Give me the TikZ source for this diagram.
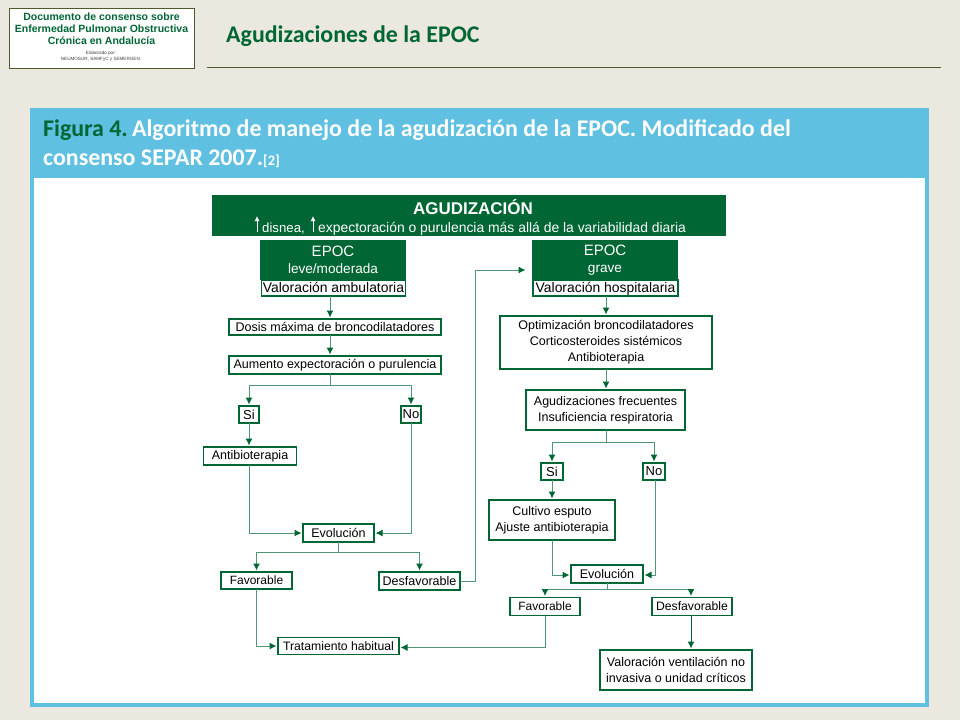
\documentclass[tikz,border=0pt]{standalone}
\usepackage{fontspec}
\setmainfont{Liberation Sans}
\newfontfamily\calib{Carlito}
\usetikzlibrary{arrows.meta}
\definecolor{bgc}{HTML}{EBE9DF}
\definecolor{bluec}{HTML}{5FC0E2}
\definecolor{darkg}{HTML}{006633}
\definecolor{lineg}{HTML}{4F9675}
\definecolor{olive}{HTML}{4E5A2E}
\tikzset{
  bx/.style={draw=darkg,line width=1.3pt,fill=white,text=black,inner sep=0pt,outer sep=0pt,align=center,
    font=\fontsize{12.5}{16}\selectfont},
  big/.style={font=\fontsize{13.9}{16}\selectfont,text height=10.5pt,text depth=2.5pt},
  small/.style={font=\fontsize{12}{14}\selectfont},
  yn/.style={font=\fontsize{13}{15}\selectfont},
  gbx/.style={fill=darkg,text=white,inner sep=0pt,outer sep=0pt,align=center,
    font=\fontsize{15}{18}\selectfont},
  conn/.style={draw=lineg,line width=1pt,-{Latex[color=darkg,length=7pt,width=7pt]},shorten >=1.5pt},
  plain/.style={draw=lineg,line width=1pt},
  up/.style={draw=white,line width=0.9pt,-{Latex[length=5pt,width=5pt]}}
}
\begin{document}
\begin{tikzpicture}[x=1pt,y=-1pt]
\useasboundingbox (0,0) rectangle (960,720);
\fill[bgc] (0,0) rectangle (960,720);
% slide header
\node[draw=olive,line width=1pt,fill=white,minimum width=185pt,minimum height=60pt,inner sep=0pt] (logo) at (101.5,38) {};
\node[text=darkg,align=center,inner sep=0pt,font=\fontsize{10.5}{11.8}\selectfont\bfseries] (logot) at (101.5,29) {Documento de consenso sobre\\Enfermedad Pulmonar Obstructiva\\Crónica en Andalucía};
\node[text=black!75,align=center,inner sep=0pt,font=\fontsize{4.6}{5.4}\selectfont] (logos) at (101,56.5) {Elaborado por:\\NEUMOSUR, SAMFyC y SEMERGEN.};
\node[anchor=west,text=darkg,inner sep=0pt,font=\calib\fontsize{23.9}{26}\selectfont\bfseries] (title) at (226,36) {Agudizaciones de la EPOC};
\coordinate (ruleA) at (207,67.5);
\coordinate (ruleB) at (941,67.5);
\draw[olive,line width=1pt] (ruleA) -- (ruleB);
% panel
\fill[bluec] (30,108) rectangle (929,707);
\fill[white] (34,178) rectangle (925,703);
\node[anchor=north west,text=white,align=left,inner sep=0pt,font=\calib\fontsize{23.9}{29}\selectfont\bfseries] (figt) at (43,119.5)
 {{\color{darkg}Figura 4.}\hspace{-3pt} Algoritmo de manejo de la agudización de la EPOC. Modificado del\\consenso SEPAR 2007.{\fontsize{14.5}{14.5}\selectfont[2]}};
% main header
\node[fill=darkg,minimum width=514pt,minimum height=41pt,inner sep=0pt,outer sep=0pt] (head) at (469,215.5) {};
\node[text=white,inner sep=0pt,font=\fontsize{17}{19}\selectfont\bfseries] (headt) at (473,207) {AGUDIZACIÓN};
\node[anchor=base west,text=white,inner sep=0pt,font=\fontsize{13.2}{14}\selectfont] (h1) at (262,232) {disnea,};
\node[anchor=base west,text=white,inner sep=0pt,font=\fontsize{13.9}{14}\selectfont] (h2) at (318,232) {expectoración o purulencia más allá de la variabilidad diaria};
\coordinate (a1s) at (257,232); \coordinate (a1e) at (257,216);
\coordinate (a2s) at (313,232); \coordinate (a2e) at (313,216);
\draw[up] (a1s) -- (a1e);
\draw[up] (a2s) -- (a2e);
% left column
\node[gbx,minimum width=146pt,minimum height=40pt] (epl) at (333,260) {EPOC\\[-1pt]{\fontsize{13.6}{14}\selectfont leve/moderada}};
\node[bx,big,minimum width=144pt,minimum height=16pt] (vam) at (333.5,288) {Valoración ambulatoria};
\node[bx,minimum width=212pt,minimum height=16pt] (dos) at (335,327) {Dosis máxima de broncodilatadores};
\node[bx,minimum width=212pt,minimum height=18pt] (aum) at (335,365) {Aumento expectoración o purulencia};
\node[bx,yn,minimum width=20pt,minimum height=17pt] (sil) at (249,414.5) {Si};
\node[bx,yn,minimum width=20pt,minimum height=17pt] (nol) at (411,414.5) {No};
\node[bx,minimum width=93pt,minimum height=18pt] (ant) at (250,456) {Antibioterapia};
\node[bx,minimum width=71pt,minimum height=18pt] (evl) at (338.5,533) {Evolución};
\node[bx,small,minimum width=71pt,minimum height=17pt] (fal) at (256.5,580.5) {Favorable};
\node[bx,minimum width=81pt,minimum height=18pt] (del) at (419.5,581) {Desfavorable};
\node[bx,font=\fontsize{12.2}{14}\selectfont,minimum width=121pt,minimum height=17pt] (tra) at (338.5,646) {Tratamiento habitual};
% right column
\node[gbx,minimum width=146pt,minimum height=40pt] (epg) at (605,260) {EPOC\\[-1pt]{\fontsize{13.6}{14}\selectfont grave}};
\node[bx,big,minimum width=145pt,minimum height=16pt] (vho) at (605.5,288) {Valoración hospitalaria};
\node[bx,minimum width=212pt,minimum height=53pt] (opt) at (606,342.5) {Optimización broncodilatadores\\Corticosteroides sistémicos\\Antibioterapia};
\node[bx,minimum width=159pt,minimum height=40pt] (agu) at (605.5,410) {Agudizaciones frecuentes\\Insuficiencia respiratoria};
\node[bx,yn,minimum width=22pt,minimum height=17pt] (sir) at (552,471.5) {Si};
\node[bx,yn,minimum width=22pt,minimum height=17pt] (nor) at (654,471.5) {No};
\node[bx,minimum width=126pt,minimum height=40pt] (cul) at (552,520) {Cultivo esputo\\Ajuste antibioterapia};
\node[bx,minimum width=72pt,minimum height=18pt] (evr) at (607,574) {Evolución};
\node[bx,small,minimum width=70pt,minimum height=18pt] (far) at (545,606.5) {Favorable};
\node[bx,font=\fontsize{12.2}{14}\selectfont,minimum width=80pt,minimum height=18pt] (der) at (692,606.5) {Desfavorable};
\node[bx,minimum width=152pt,minimum height=40pt] (ven) at (676,670) {Valoración ventilación no\\invasiva o unidad críticos};
% free ends and bends
\coordinate (gr) at (527,270);
% left connectors
\draw[conn] ([xshift=-3.5pt]vam.south) -- ([xshift=-5pt]dos.north);
\draw[conn] ([xshift=-5pt]dos.south) -- ([xshift=-5pt]aum.north);
\draw[plain] ([xshift=-5pt]aum.south) -- ++(0,11);
\draw[conn] ([xshift=-5pt,yshift=-11pt]aum.south) -| (sil.north);
\draw[conn] ([xshift=-5pt,yshift=-11pt]aum.south) -| (nol.north);
\draw[conn] (sil.south) -- ([xshift=-1pt]ant.north);
\draw[conn] ([xshift=-1pt]ant.south) |- (evl.west);
\draw[conn] (nol.south) |- (evl.east);
\draw[plain] (evl.south) -- ++(0,10);
\draw[conn] ([yshift=-10pt]evl.south) -| (fal.north);
\draw[conn] ([yshift=-10pt]evl.south) -| (del.north);
\draw[conn] (fal.south) |- (tra.west);
\draw[conn] (del.east) -- ++(15,0) |- (gr);
% right connectors
\draw[conn] ([xshift=0.5pt]vho.south) -- (opt.north);
\draw[conn] (opt.south) -- ([xshift=0.5pt]agu.north);
\draw[plain] ([xshift=0.5pt]agu.south) -- ++(0,12);
\draw[conn] ([xshift=0.5pt,yshift=-12pt]agu.south) -| (sir.north);
\draw[conn] ([xshift=0.5pt,yshift=-12pt]agu.south) -| (nor.north);
\draw[conn] (sir.south) -- (cul.north);
\draw[conn] (cul.south) |- ([yshift=-1pt]evr.west);
\draw[conn] ([xshift=1pt]nor.south) |- ([yshift=-1pt]evr.east);
\draw[plain] (evr.south) -- ++(0,6);
\draw[conn] ([yshift=-6pt]evr.south) -| (far.north);
\draw[conn] ([yshift=-6pt]evr.south) -| ([xshift=-1pt]der.north);
\draw[conn] (far.south) |- ([yshift=-1.5pt]tra.east);
\draw[conn,draw=darkg] ([xshift=-1pt]der.south) -- ([xshift=15pt]ven.north);
\end{tikzpicture}
\end{document}
